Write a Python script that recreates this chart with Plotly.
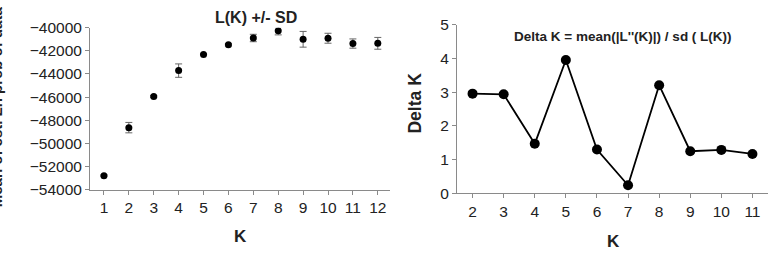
import plotly.graph_objects as go

W, H = 777, 265

# Left panel: L(K) +/- SD
k_left = [1, 2, 3, 4, 5, 6, 7, 8, 9, 10, 11, 12]
lnp_mean = [-52790, -48640, -45950, -43710, -42310, -41480, -40890, -40270, -41000, -40910, -41370, -41350]
lnp_sd = [60, 450, 90, 580, 60, 90, 320, 350, 680, 430, 400, 510]

# Right panel: Delta K
k_right = [2, 3, 4, 5, 6, 7, 8, 9, 10, 11]
delta_k = [2.96, 2.94, 1.47, 3.96, 1.30, 0.24, 3.21, 1.25, 1.29, 1.17]

left_ticks = [-54000, -52000, -50000, -48000, -46000, -44000, -42000, -40000]

FONT = "Liberation Sans, Arial, sans-serif"
AX = "#8a8a8a"
TXT = "#222222"

def px(x):
    return x / W

def py(y):
    return 1 - y / H

fig = go.Figure()

fig.add_trace(go.Scatter(
    x=k_left, y=lnp_mean, mode="markers",
    marker=dict(color="black", size=7, symbol="circle"),
    error_y=dict(type="data", array=lnp_sd, visible=True, color="#666666", thickness=1, width=3.5),
    xaxis="x", yaxis="y", showlegend=False,
))

fig.add_trace(go.Scatter(
    x=k_right, y=delta_k, mode="lines+markers",
    line=dict(color="black", width=1.8),
    marker=dict(color="black", size=10, symbol="circle"),
    xaxis="x2", yaxis="y2", showlegend=False,
))

axis_common = dict(
    showgrid=False, zeroline=False, showline=True, linecolor=AX, linewidth=1,
    ticks="outside", tickcolor=AX, ticklen=4, tickwidth=1,
    tickfont=dict(family=FONT, size=15.5, color=TXT),
)

fig.update_layout(
    width=W, height=H,
    margin=dict(l=0, r=0, t=0, b=0),
    paper_bgcolor="white", plot_bgcolor="white",
    xaxis=dict(domain=[px(90), px(390)], range=[0.44, 12.49], tickvals=k_left,
               anchor="y", **axis_common),
    yaxis=dict(domain=[py(193), py(20)], range=[-54000, -40000], tickvals=left_ticks,
               tickformat="d", anchor="x", **axis_common),
    xaxis2=dict(domain=[px(457), px(768)], range=[1.5, 11.5], tickvals=k_right,
                anchor="y2", **axis_common),
    yaxis2=dict(domain=[py(197), py(17)], range=[0, 5], tickvals=[0, 1, 2, 3, 4, 5],
                anchor="x2", **axis_common),
)

def ann(text, x, y, size, angle=0, bold=True):
    fig.add_annotation(
        text=f"<b>{text}</b>" if bold else text,
        x=px(x), y=py(y), xref="paper", yref="paper",
        xanchor="center", yanchor="middle", showarrow=False,
        textangle=angle, font=dict(family=FONT, size=size, color=TXT),
    )

ann("L(K) +/- SD", 256, 9, 16)
ann("K", 241, 243, 17)
ann("Mean of est. Ln prob of data", -4, 105, 15, angle=-90)
ann("Delta K = mean(|L''(K)|) / sd ( L(K))", 623, 29, 13.5)
ann("K", 613, 248, 17)
ann("Delta K", 415, 101, 17.5, angle=-90)

fig.write_html("out.html")
